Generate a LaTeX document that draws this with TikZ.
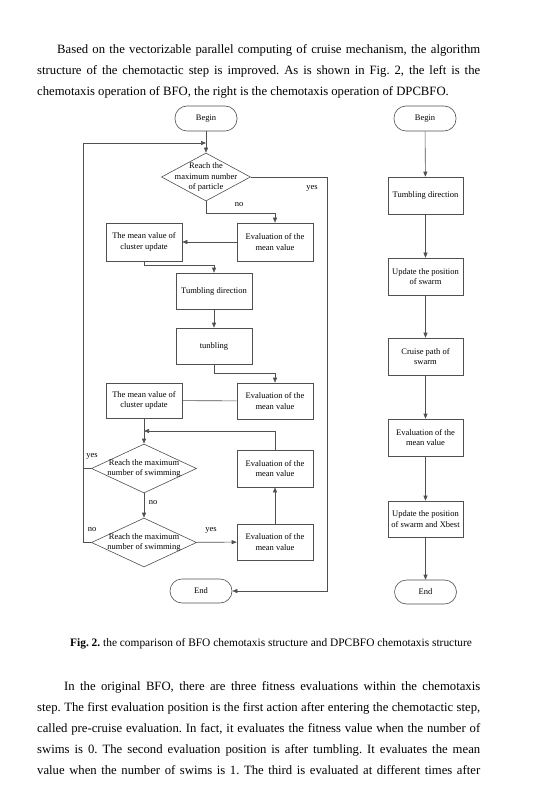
\documentclass[tikz,border=0pt]{standalone}
\usepackage{fontspec}
\setmainfont{Liberation Serif}
\usetikzlibrary{shapes.geometric,arrows.meta}
\definecolor{linec}{RGB}{80,80,80}
\frenchspacing
\begin{document}
\begin{tikzpicture}[x=1pt,y=-1pt,
  line/.style={draw=linec, line width=0.6pt},
  arr/.style={line, -{Triangle[length=5pt,width=4pt]}},
  dfont/.style={font=\fontsize{8.5}{10.2}\selectfont},
  box/.style={draw=linec, line width=0.6pt, rectangle, minimum width=76pt, minimum height=37pt, inner sep=0pt, align=center, dfont},
  rbox/.style={box, minimum width=75pt},
  term/.style={draw=linec, line width=0.6pt, rectangle, rounded corners=12pt, minimum width=62pt, minimum height=25pt, inner sep=0pt, dfont},
  dia/.style={draw=linec, line width=0.6pt, diamond, inner sep=0pt},
  lab/.style={dfont, inner sep=0pt},
  diatext/.style={dfont, inner sep=0pt, align=center},
  body/.style={anchor=base west, inner sep=0pt, font=\fontsize{12.7}{14}\selectfont\frenchspacing},
  capt/.style={anchor=base west, inner sep=0pt, font=\fontsize{11.4}{13}\selectfont\frenchspacing},
]
\fill[white] (0,0) rectangle (553,799);
\useasboundingbox (0,0) rectangle (553,799);

% ---- text above ----
\node[body] (p1) at (57,54) {\makebox[423pt][s]{Based on the vectorizable parallel computing of cruise mechanism, the algorithm}};
\node[body] (p2) at (37,75) {\makebox[443pt][s]{structure of the chemotactic step is improved. As is shown in Fig. 2, the left is the}};
\node[body] (p3) at (37,96) {chemotaxis operation of BFO, the right is the chemotaxis operation of DPCBFO.};

% ---- left flowchart ----
\node[term] (b1) at (206,118.5) {Begin};
\node[dia, minimum width=89pt, minimum height=48pt,
      label={[diatext]center:Reach the\\maximum number\\of particle}] (d1) at (206,177) {};
\node[box, minimum height=38pt] (e1) at (275,242) {Evaluation of the\\mean value};
\node[box, minimum height=38pt] (c1) at (144,242) {The mean value of\\cluster update};
\node[box, minimum height=36pt] (t1) at (214,291) {Tumbling direction};
\node[box, minimum height=36pt] (t2) at (214,346) {tunbling};
\node[box, minimum height=36pt] (e2) at (275,401) {Evaluation of the\\mean value};
\node[box, minimum height=35pt] (c2) at (144,400.5) {The mean value of\\cluster update};
\node[dia, minimum width=105pt, minimum height=49pt,
      label={[diatext]center:Reach the maximum\\number of swimming}] (d2) at (144,468.5) {};
\node[dia, minimum width=105pt, minimum height=49pt,
      label={[diatext]center:Reach the maximum\\number of swimming}] (d3) at (144,542.5) {};
\node[box] (e3) at (275,468.5) {Evaluation of the\\mean value};
\node[box, minimum height=36pt] (e4) at (275,542) {Evaluation of the\\mean value};
\node[term, minimum height=24pt] (end1) at (201,591) {End};

\coordinate (j1) at (206,143);
\coordinate (j2) at (144,431);
\coordinate (l2) at (83,468.5);

\draw[arr] (b1) -- (d1);
\draw[arr] (d3.west) -- (83,542.5) |- (j1);
\draw[line] (d2.west) -- (l2);
\draw[arr] (d1.east) -- (327,177) |- (end1.east);
\draw[arr] (d1.south) -- ++(0,12) -| (e1.north);
\draw[arr] (e1) -- (c1);
\draw[arr] (c1.south) -- ++(0,3.5) -| (t1.north);
\draw[arr] (t1) -- (t2);
\draw[arr] (t2.south) -- ++(0,9) -| (e2.north);
\draw[line] (e2) -- (c2);
\draw[arr] (c2) -- (d2);
\draw[arr] (e3.north) |- (j2);
\draw[arr] (d2) -- (d3);
\draw[arr] (d3) -- (e4);
\draw[arr] (e4) -- (e3);

\node[lab] (y1) at (312,188) {yes};
\node[lab] (n1) at (239,205) {no};
\node[lab] (y2) at (92,456) {yes};
\node[lab] (n2) at (153,503) {no};
\node[lab] (n3) at (92,530) {no};
\node[lab] (y3) at (211,530) {yes};

% ---- right flowchart ----
\node[term] (b2) at (425,118.5) {Begin};
\node[rbox] (r1) at (425.5,195.5) {Tumbling direction};
\node[rbox] (r2) at (425.5,276.5) {Update the position\\of swarm};
\node[rbox] (r3) at (425.5,356.5) {Cruise path of\\swarm};
\node[rbox] (r4) at (425.5,437.5) {Evaluation of the\\mean value};
\node[rbox, minimum height=36pt] (r5) at (425.5,519) {Update the position\\of swarm and Xbest};
\node[term, minimum height=24pt] (end2) at (425.5,592) {End};

\draw[arr] (b2) -- (r1);
\draw[arr] (r1) -- (r2);
\draw[arr] (r2) -- (r3);
\draw[arr] (r3) -- (r4);
\draw[arr] (r4) -- (r5);
\draw[arr] (r5) -- (end2);

% ---- caption and text below ----
\node[capt] (cap) at (70,646) {\textbf{Fig. 2.} the comparison of BFO chemotaxis structure and DPCBFO chemotaxis structure};
\node[body] (q1) at (64,690.5) {\makebox[416pt][s]{In the original BFO, there are three fitness evaluations within the chemotaxis}};
\node[body] (q2) at (37,711.5) {\makebox[443pt][s]{step. The first evaluation position is the first action after entering the chemotactic step,}};
\node[body] (q3) at (37,732.5) {\makebox[443pt][s]{called pre-cruise evaluation. In fact, it evaluates the fitness value when the number of}};
\node[body] (q4) at (37,753) {\makebox[443pt][s]{swims is 0. The second evaluation position is after tumbling. It evaluates the mean}};
\node[body] (q5) at (37,774) {\makebox[443pt][s]{value when the number of swims is 1. The third is evaluated at different times after}};
\end{tikzpicture}
\end{document}
